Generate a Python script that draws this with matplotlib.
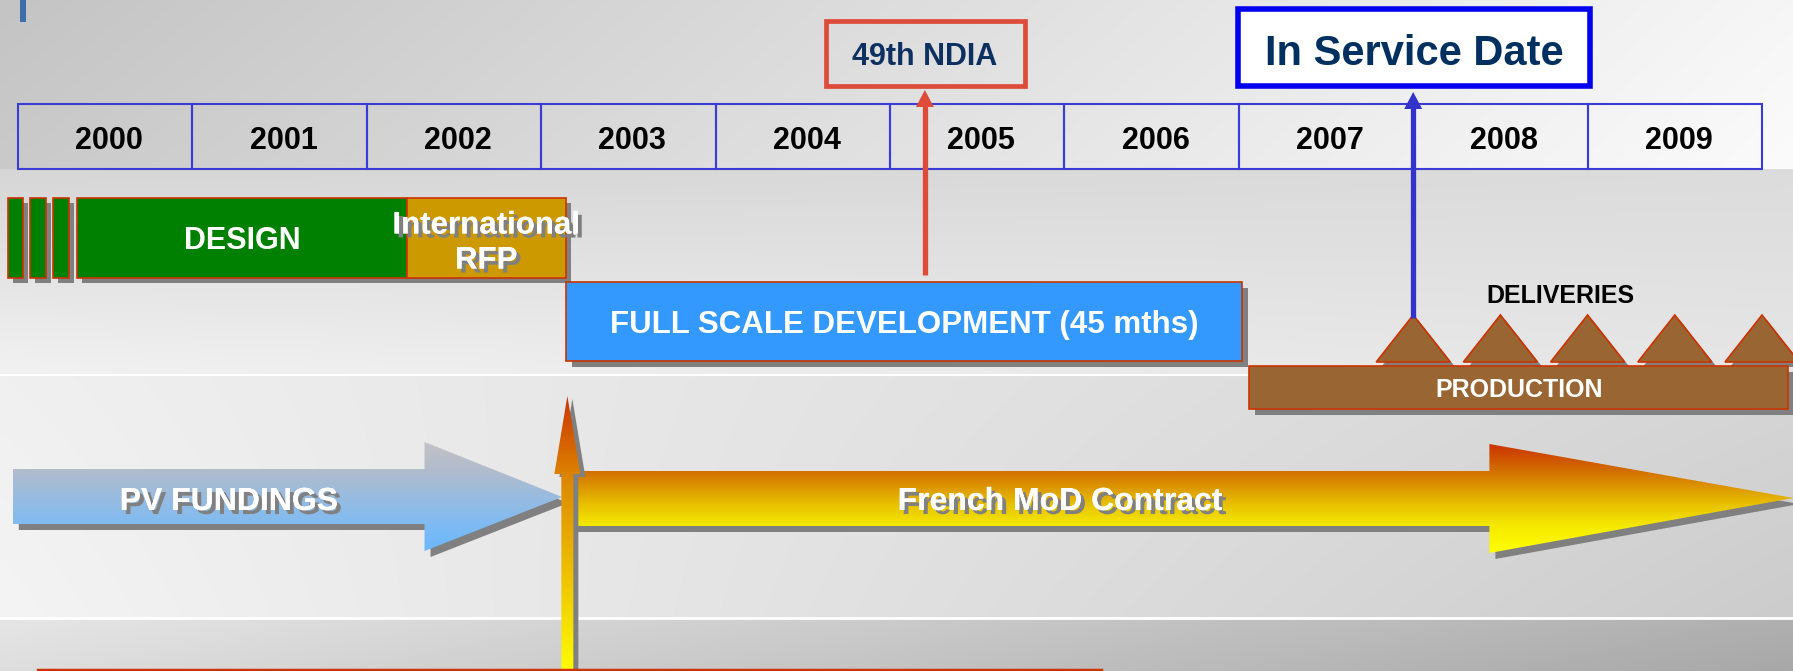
import numpy as np
import matplotlib
matplotlib.use('Agg')
import matplotlib.pyplot as plt
import matplotlib.patheffects as pe
from matplotlib.patches import Rectangle, Polygon
from matplotlib.colors import LinearSegmentedColormap, to_rgb

plt.rcParams['font.family'] = ['Liberation Sans', 'DejaVu Sans']

# ---- data ----
years = list(range(2000, 2010))
design_stubs = [1999.94, 2000.07, 2000.20]
stub_width = 0.09
phase_names = ['DESIGN', 'International\nRFP', 'FULL SCALE DEVELOPMENT (45 mths)', 'PRODUCTION']
phase_start = [2000.34, 2002.23, 2003.14, 2007.06]
phase_end = [2002.23, 2003.14, 2007.02, 2010.15]
deliveries = [2008.0, 2008.5, 2009.0, 2009.5, 2010.0]
ndia_year = 2005.2
isd_year = 2008.0
pv_span = (1999.97, 2003.12)
contract_span = (2003.15, 2010.18)

# ---- layout helpers (pixel <-> year) ----
PPY = 174.4                      # pixels per year
def px(n):
    return n / PPY
X_LEFT = 2000 - px(18)
X_RIGHT = X_LEFT + px(1793)
def X(p):
    return X_LEFT + px(p)

SHADOW = '#808080'
EDGE = '#cc3300'
TXT_SHADOW = [pe.withSimplePatchShadow(offset=(2.9, -2.9), shadow_rgbFace=SHADOW, alpha=1.0),
              pe.Normal()]

fig = plt.figure(figsize=(17.93, 6.71), dpi=100)
ax = fig.add_axes([0, 0, 1, 1])
ax.set_axis_off()

# background bands
def band(h, lt, rt, lb, rb, w=400):
    t = np.linspace(0, 1, w)[None, :, None]
    s = np.linspace(0, 1, h)[:, None, None]
    lt, rt, lb, rb = [np.array(to_rgb(c)) for c in (lt, rt, lb, rb)]
    top = lt * (1 - t) + rt * t
    bot = lb * (1 - t) + rb * t
    return top * (1 - s) + bot * s

bg = np.vstack([
    band(169, '#c4c4c4', '#f6f6f6', '#cacaca', '#fbfbfb'),
    band(206, '#d6d6d6', '#dcdcdc', '#f2f2f2', '#e6e6e6'),
    band(243, '#f0f0f0', '#d6d6d6', '#f4f4f4', '#cccccc'),
    band(53, '#e6e6e6', '#b0b0b0', '#dedede', '#a8a8a8'),
])
ax.imshow(bg, extent=(X_LEFT, X_RIGHT, 671, 0), aspect='auto', zorder=0,
          interpolation='bilinear')
ax.axhline(375, color='white', lw=1.5, zorder=1)
ax.axhline(618, color='white', lw=2, zorder=1)

ax.add_patch(Rectangle((X(20), 0), px(5.6), 22, fc='#3c6fa8', ec='none', zorder=2))

def grad_poly(pts, colors, zorder):
    poly = Polygon(pts, closed=True, fc='none', ec='none', zorder=zorder)
    ax.add_patch(poly)
    xs = [p[0] for p in pts]
    ys = [p[1] for p in pts]
    cmap = LinearSegmentedColormap.from_list('g', colors)
    im = ax.imshow(np.linspace(0, 1, 256)[:, None], cmap=cmap,
                   extent=(min(xs), max(xs), max(ys), min(ys)),
                   aspect='auto', zorder=zorder, interpolation='bilinear')
    im.set_clip_path(poly)

def shifted(pts, dx, dy):
    return [(x + px(dx), y + dy) for x, y in pts]

def shadow_text(x, y, s, size, **kw):
    ax.text(x, y, s, fontsize=size, fontweight='bold', color='white',
            ha='center', va='center', zorder=21, path_effects=TXT_SHADOW, **kw)

# year row
for yr in years:
    ax.add_patch(Rectangle((yr, 104), 1, 65, fill=False, ec='#3b3bd6', lw=1.5, zorder=3))
    ax.text(yr + 0.5 + px(4), 141, str(yr), ha='center', va='center', fontsize=22,
            fontweight='bold', color='black', zorder=4)

# milestone boxes
ax.add_patch(Rectangle((ndia_year - px(99), 21), px(199), 65, fill=False,
                       ec='#dd4b39', lw=3.4, zorder=6))
ax.text(ndia_year, 57, '49th NDIA', ha='center', va='center', fontsize=22,
        fontweight='bold', color='#0d3060', zorder=7)
ax.add_patch(Rectangle((isd_year - px(175), 9), px(352), 77, fc='white',
                       ec='#0000ee', lw=4, zorder=6))
ax.text(isd_year + px(1), 54, 'In Service Date', ha='center', va='center', fontsize=30,
        fontweight='bold', color='#003060', zorder=7)

def up_arrow(x, ytip, ybot, color):
    ax.plot([x, x], [ybot, ytip + 14], color=color, lw=3.8, solid_capstyle='butt', zorder=8)
    ax.add_patch(Polygon([(x - px(9), ytip + 17), (x + px(9), ytip + 17), (x, ytip)],
                         fc=color, ec='none', zorder=8))

up_arrow(ndia_year, 90, 275, '#dd4b39')
up_arrow(isd_year, 92, 318, '#3333cc')

# phase bars
def bar(x0, x1, y0, y1, fc, off=6):
    ax.add_patch(Rectangle((x0 + px(off), y0 + off), x1 - x0, y1 - y0, fc=SHADOW,
                           ec='none', zorder=4))
    ax.add_patch(Rectangle((x0, y0), x1 - x0, y1 - y0, fc=fc, ec=EDGE, lw=1.2, zorder=5))

for s in design_stubs:
    bar(s, s + stub_width, 198, 278, '#008000', off=5)
bar(phase_start[0], phase_end[0], 198, 278, '#008000', off=5)
bar(phase_start[1], phase_end[1], 198, 278, '#cc9900', off=5)
bar(phase_start[2], phase_end[2], 282, 361, '#3399ff')

ax.text((phase_start[0] + phase_end[0]) / 2, 241, phase_names[0], ha='center', va='center',
        fontsize=22, fontweight='bold', color='white', zorder=20)
shadow_text((phase_start[1] + phase_end[1]) / 2, 243, phase_names[1], 22.5,
            linespacing=1.22)
ax.text((phase_start[2] + phase_end[2]) / 2, 325, phase_names[2], ha='center', va='center',
        fontsize=22.5, fontweight='bold', color='white', zorder=20)

# deliveries and production
tri = [[(d - px(37), 362), (d + px(37), 362), (d, 315)] for d in deliveries]
for t in tri:
    ax.add_patch(Polygon(shifted(t, 5, 5), fc=SHADOW, ec='none', zorder=4))
for t in tri:
    ax.add_patch(Polygon(t, fc='#996633', ec=EDGE, lw=1.2, zorder=5))
bar(phase_start[3], phase_end[3], 366, 409, '#996633')
ax.text((phase_start[3] + phase_end[3]) / 2, 390, phase_names[3], ha='center', va='center',
        fontsize=18, fontweight='bold', color='white', zorder=20)
ax.text(X(1560), 296, 'DELIVERIES', ha='center', va='center', fontsize=18,
        fontweight='bold', color='black', zorder=20)

# funding arrows
pv0, pv1 = pv_span
hb = pv1 - px(137.6)
pv_pts = [(pv0, 469), (hb, 469), (hb, 442), (pv1, 497), (hb, 551), (hb, 524), (pv0, 524)]
ax.add_patch(Polygon(shifted(pv_pts, 6, 6), fc=SHADOW, ec='none', zorder=9))
grad_poly(pv_pts, [(0, '#c2c2c6'), (0.25, '#b2bccc'), (0.75, '#80bbf2'), (1, '#6ab8ff')], 10)
shadow_text(X(229), 502, 'PV FUNDINGS', 23)

c0, c1 = contract_span
hb = c1 - px(304)
c_pts = [(c0, 471), (hb, 471), (hb, 444), (c1, 498), (hb, 553), (hb, 526), (c0, 526)]
ax.add_patch(Polygon(shifted(c_pts, 6, 6), fc=SHADOW, ec='none', zorder=9))
grad_poly(c_pts, [(0, '#cc3300'), (0.25, '#d27000'), (0.55, '#e8c000'),
                  (0.75, '#f5ea00'), (1, '#ffff00')], 10)
shadow_text(X(1060), 502, 'French MoD Contract', 23)

v_pts = [(c0 - px(6), 675), (c0 - px(6), 474), (c0 - px(13), 474), (c0, 396),
         (c0 + px(13), 474), (c0 + px(6), 474), (c0 + px(6), 675)]
ax.add_patch(Polygon(shifted(v_pts, 5, 3), fc=SHADOW, ec='none', zorder=11))
grad_poly(v_pts, [(0, '#cc3300'), (0.3, '#dd8800'), (1, '#ffff00')], 12)

ax.plot([X(38), X(1101)], [670, 670], color=EDGE, lw=2.5, zorder=13)

ax.set_xlim(X_LEFT, X_RIGHT)
ax.set_ylim(671, 0)
fig.savefig('out.png', dpi=100)
